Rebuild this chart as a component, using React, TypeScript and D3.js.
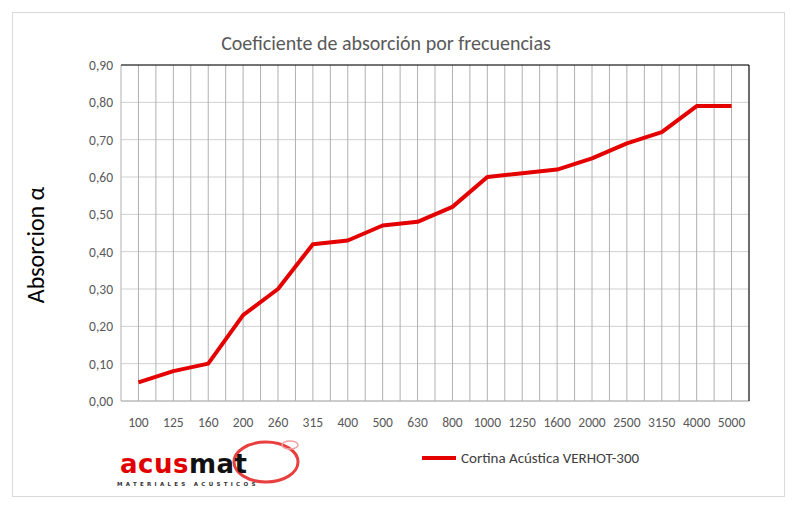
import React from 'react';
import * as d3 from 'd3';

const categories = ['100', '125', '160', '200', '260', '315', '400', '500', '630', '800', '1000', '1250', '1600', '2000', '2500', '3150', '4000', '5000'];
const values = [0.05, 0.08, 0.1, 0.23, 0.3, 0.42, 0.43, 0.47, 0.48, 0.52, 0.6, 0.61, 0.62, 0.65, 0.69, 0.72, 0.79, 0.79];
const yTicks = [0, 0.1, 0.2, 0.3, 0.4, 0.5, 0.6, 0.7, 0.8, 0.9];
const seriesName = 'Cortina Acústica VERHOT-300';

const W = 796, H = 512;
const left = 121, right = 749, top = 65, bottom = 401;

export default function App() {
  const x = d3.scaleBand<string>().domain(categories).range([left, right]);
  const y = d3.scaleLinear().domain([0, 0.9]).range([bottom, top]);
  const bw = x.bandwidth();
  const vLines: number[] = [];
  categories.forEach(c => { vLines.push(x(c)! + bw / 2); vLines.push(x(c)! + bw); });
  const line = d3.line<number>().x((_, i) => x(categories[i])! + bw / 2).y(d => y(d));
  const fmt = (v: number) => v.toFixed(2).replace('.', ',');
  const font = 'Calibri, Carlito, "Open Sans", sans-serif';
  return (
    <svg width={W} height={H} style={{ position: 'absolute', left: 0, top: 0 }} fontFamily={font}>
      <rect x={0} y={0} width={W} height={H} fill="#fff" />
      <rect x={12.5} y={12.5} width={772} height={484} fill="#fff" stroke="#d9d9d9" />
      {yTicks.map(t => (
        <line key={t} x1={left} x2={right} y1={y(t)} y2={y(t)} stroke="#d0d0d0" />
      ))}
      {vLines.map((v, i) => (
        <line key={i} x1={v} x2={v} y1={top} y2={bottom} stroke="#b0b0b0" />
      ))}
      <line x1={left} x2={left} y1={top} y2={bottom} stroke="#b0b0b0" />
      <line x1={left} x2={right} y1={bottom} y2={bottom} stroke="#b0b0b0" />
      <line x1={left} x2={right} y1={top} y2={top} stroke="#000" />
      <line x1={right} x2={right} y1={top} y2={bottom} stroke="#000" />
      {yTicks.map(t => (
        <text key={t} x={left - 8} y={y(t) + 5} textAnchor="end" fontSize={13.5} fill="#595959">{fmt(t)}</text>
      ))}
      {categories.map(c => (
        <text key={c} x={x(c)! + bw / 2} y={427} textAnchor="middle" fontSize={13.5} fill="#595959">{c}</text>
      ))}
      <path d={line(values)!} fill="none" stroke="#e50000" strokeWidth={4} strokeLinejoin="round" />
      <text x={386} y={50} textAnchor="middle" fontSize={20} fill="#595959">Coeficiente de absorción por frecuencias</text>
      <text transform="translate(44,245) rotate(-90)" textAnchor="middle" fontSize={24} fill="#000">Absorcion α</text>
      <line x1={422} x2={456} y1={458} y2={458} stroke="#e50000" strokeWidth={4} />
      <text x={461} y={463} fontSize={15} fill="#404040">{seriesName}</text>
      <g>
        <ellipse cx={266} cy={462} rx={32} ry={20} fill="none" stroke="#e84040" strokeWidth={3} />
        <ellipse cx={290} cy={445} rx={8} ry={4} fill="none" stroke="#f0a0a0" strokeWidth={1.5} />
        <text x={120} y={473} fontSize={26} fontWeight="bold" fontFamily="'DejaVu Sans', sans-serif" letterSpacing={0.5}>
          <tspan fill="#e00000">acus</tspan><tspan fill="#111">mat</tspan>
        </text>
        <text x={117} y={486} fontSize={5.5} fontWeight="bold" letterSpacing={3.3} fill="#333" fontFamily="'DejaVu Sans', sans-serif">MATERIALES ACÚSTICOS</text>
      </g>
    </svg>
  );
}
